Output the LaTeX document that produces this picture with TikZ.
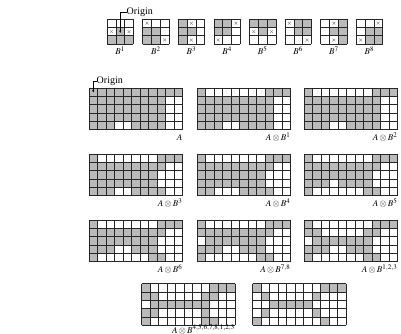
\documentclass[tikz,border=0pt]{standalone}
\usepackage{mathptmx}
\usepackage{fontspec}
\setmainfont{Liberation Serif}
\usetikzlibrary{arrows.meta}
\newcommand\cw{8.5}
\newcommand\ch{8.35}
\newcommand\bw{8.8}
\newcommand\bh{8.4}
\tikzset{
  cellgray/.style={fill=black!27},
  gridln/.style={draw=black!85,line width=0.6pt},
  crossln/.style={draw=black!55,line width=0.35pt},
  lbl/.style={font=\fontsize{9}{10}\selectfont,inner sep=0pt},
  orig/.style={font=\fontsize{10}{11}\selectfont,inner sep=0pt},
  origarrow/.style={draw=black,line width=0.5pt,-{Stealth[length=2.5pt,width=2pt]}},
}
\newcommand\drawbig[3]{%
  \begin{scope}[shift={(#1,#2)}]
    \foreach [count=\r] \row in {#3} {
      \foreach [count=\c] \v in \row {
        \ifnum\v=1 \fill[cellgray] ({(\c-1)*\cw},{(\r-1)*\ch}) rectangle ++(\cw,\ch);\fi
      }
    }
    \foreach \i in {0,...,11} \draw[gridln] ({\i*\cw},0) -- ++(0,{5*\ch});
    \foreach \j in {0,...,5} \draw[gridln] (0,{\j*\ch}) -- ++({11*\cw},0);
  \end{scope}}
\newcommand\drawB[3]{%
  \begin{scope}[shift={(#1,#2)}]
    \foreach [count=\r] \row in {#3} {
      \foreach [count=\c] \v in \row {
        \ifnum\v=1 \fill[cellgray] ({(\c-1)*\bw},{(\r-1)*\bh}) rectangle ++(\bw,\bh);\fi
        \ifnum\v=2
          \draw[crossln] ({(\c-0.5)*\bw-1.4},{(\r-0.5)*\bh-1.4}) -- ++(2.8,2.8);
          \draw[crossln] ({(\c-0.5)*\bw-1.4},{(\r-0.5)*\bh+1.4}) -- ++(2.8,-2.8);
        \fi
      }
    }
    \foreach \i in {0,...,3} \draw[gridln] ({\i*\bw},0) -- ++(0,{3*\bh});
    \foreach \j in {0,...,3} \draw[gridln] (0,{\j*\bh}) -- ++({3*\bw},0);
  \end{scope}}
\begin{document}
\begin{tikzpicture}[x=1pt,y=-1pt]
\useasboundingbox (0,0) rectangle (401,334);
\fill[white] (0,0) rectangle (401,334);
% structuring elements
\drawB{107}{19}{{0,0,0},{2,1,2},{1,1,1}}
\drawB{142.6}{19}{{2,0,0},{1,1,0},{1,1,2}}
\drawB{178.2}{19}{{1,2,0},{1,1,0},{1,2,0}}
\drawB{213.8}{19}{{1,1,2},{1,1,0},{2,0,0}}
\drawB{249.4}{19}{{1,1,1},{2,1,2},{0,0,0}}
\drawB{285}{19}{{2,1,1},{0,1,1},{0,0,2}}
\drawB{320.6}{19}{{0,2,1},{0,1,1},{0,2,1}}
\drawB{356.2}{19}{{0,0,2},{0,1,1},{2,1,1}}
\foreach \i [count=\k from 0] in {1,...,8}
  \node[lbl,anchor=base] (lb\i) at ({107+13.2+35.6*\k},55) {$B^{\i}$};
% origin for B1
\node[orig,anchor=west] (origB) at (126.5,12) {Origin};
\coordinate (origBc) at (120.2,33);
\draw[origarrow] (origB.west) -| (origBc);
% big grids
\drawbig{89}{88}{{1,1,1,1,1,1,1,1,1,1,1},{1,1,1,1,1,1,1,1,1,0,0},{1,1,1,1,1,1,1,1,1,0,0},{1,1,1,1,1,1,1,1,1,0,0},{1,1,1,0,0,1,1,1,1,0,0}}
\drawbig{197}{88}{{1,0,0,0,0,0,0,0,1,1,1},{1,1,1,1,1,1,1,1,1,0,0},{1,1,1,1,1,1,1,1,1,0,0},{1,1,1,1,1,1,1,1,1,0,0},{1,1,1,0,0,1,1,1,1,0,0}}
\drawbig{304}{88}{{1,0,0,0,0,0,0,0,1,1,1},{1,1,1,1,1,1,1,1,1,0,0},{1,1,1,1,1,1,1,1,1,0,0},{1,1,1,1,1,1,1,1,1,0,0},{1,1,1,0,0,1,1,1,1,0,0}}
\drawbig{89}{154}{{1,0,0,0,0,0,0,0,1,1,1},{1,1,1,1,1,1,1,1,1,0,0},{1,1,1,1,1,1,1,1,0,0,0},{1,1,1,1,1,1,1,1,0,0,0},{1,1,1,0,0,1,1,1,1,0,0}}
\drawbig{197}{154}{{1,0,0,0,0,0,0,0,1,1,1},{1,1,1,1,1,1,1,1,1,0,0},{1,1,1,1,1,1,1,1,0,0,0},{1,1,1,1,1,1,1,1,0,0,0},{1,1,0,0,0,1,1,1,1,0,0}}
\drawbig{304}{154}{{1,0,0,0,0,0,0,0,1,1,1},{1,1,1,1,1,1,1,1,1,0,0},{1,1,1,1,1,1,1,1,0,0,0},{1,1,1,0,1,1,1,1,0,0,0},{1,0,0,0,0,0,0,1,1,0,0}}
\drawbig{89}{220}{{1,0,0,0,0,0,0,0,1,1,1},{1,1,1,1,1,1,1,1,1,0,0},{1,1,1,1,1,1,1,1,0,0,0},{1,1,1,0,0,1,1,1,0,0,0},{1,0,0,0,0,0,0,1,1,0,0}}
\drawbig{197}{220}{{1,0,0,0,0,0,0,0,1,1,1},{1,1,1,1,1,1,1,1,1,0,0},{0,1,1,1,1,1,1,1,0,0,0},{1,1,1,0,0,1,1,1,0,0,0},{1,0,0,0,0,0,0,1,1,0,0}}
\drawbig{304}{220}{{1,0,0,0,0,0,0,0,1,1,1},{1,1,0,0,0,0,0,1,1,0,0},{0,1,1,1,1,1,1,1,0,0,0},{1,1,1,0,0,1,1,1,0,0,0},{1,0,0,0,0,0,0,1,1,0,0}}
\drawbig{141.5}{283.5}{{1,0,0,0,0,0,0,0,1,1,1},{1,1,0,0,0,0,0,1,1,0,0},{0,1,1,1,1,1,1,1,0,0,0},{1,1,0,0,0,0,0,1,0,0,0},{1,0,0,0,0,0,0,1,1,0,0}}
\drawbig{252.5}{283.5}{{1,0,0,0,0,0,0,0,1,1,1},{0,1,0,0,0,0,0,1,0,0,0},{0,0,1,1,1,1,1,0,0,0,0},{0,1,0,0,0,0,0,1,0,0,0},{1,0,0,0,0,0,0,0,1,0,0}}
% origin for A
\node[orig,anchor=west] (origA) at (96.5,81) {Origin};
\coordinate (origAc) at (93.2,92.5);
\draw[origarrow] (origA.west) -| (origAc);
% labels
\node[lbl,anchor=base east] (l1) at (182.5,140.5) {$A$};
\node[lbl,anchor=base east] (l2) at (290.5,140.5) {$A\otimes B^{1}$};
\node[lbl,anchor=base east] (l3) at (397.5,140.5) {$A\otimes B^{2}$};
\node[lbl,anchor=base east] (l4) at (182.5,206.5) {$A\otimes B^{3}$};
\node[lbl,anchor=base east] (l5) at (290.5,206.5) {$A\otimes B^{4}$};
\node[lbl,anchor=base east] (l6) at (397.5,206.5) {$A\otimes B^{5}$};
\node[lbl,anchor=base east] (l7) at (182.5,272.5) {$A\otimes B^{6}$};
\node[lbl,anchor=base east] (l8) at (290.5,272.5) {$A\otimes B^{7,8}$};
\node[lbl,anchor=base east] (l9) at (397.5,272.5) {$A\otimes B^{1,2,3}$};
\node[lbl,anchor=base east] (l10) at (235,333) {$A\otimes B^{4,5,6,7,8,1,2,3}$};
\end{tikzpicture}
\end{document}
